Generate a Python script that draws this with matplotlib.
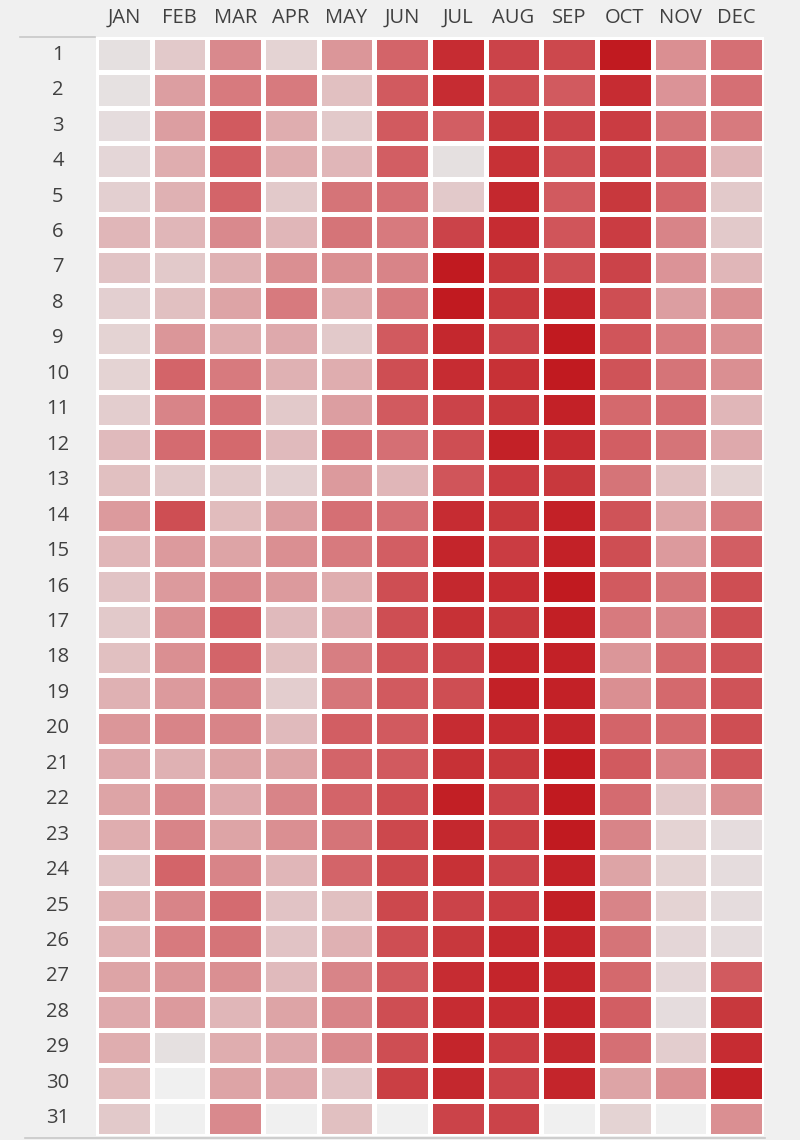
import numpy as np
import matplotlib
matplotlib.use('Agg')
import matplotlib.pyplot as plt
from matplotlib.colors import LinearSegmentedColormap
from matplotlib.transforms import blended_transform_factory
from matplotlib.lines import Line2D

months = ['JAN', 'FEB', 'MAR', 'APR', 'MAY', 'JUN',
          'JUL', 'AUG', 'SEP', 'OCT', 'NOV', 'DEC']
days = list(range(1, 32))
nan = np.nan

# intensity per day (0 = lightest, 10 = darkest)
jan = [0.3, 0.2, 0.5, 0.8, 1.2, 2.5, 1.8, 1.2, 1.0, 1.0, 1.3, 2.3, 2.0, 4.0, 2.5, 1.8,
       1.5, 2.0, 2.8, 4.2, 3.2, 3.5, 3.0, 1.8, 2.8, 2.8, 3.5, 3.2, 3.0, 2.2, 1.5]
feb = [1.5, 3.8, 3.8, 3.0, 2.8, 2.5, 1.5, 2.0, 4.2, 6.5, 5.0, 6.2, 1.5, 7.5, 4.0, 4.0,
       4.5, 4.5, 4.0, 5.0, 2.8, 4.8, 5.0, 6.5, 5.0, 5.5, 4.2, 4.0, 0.3, nan, nan]
mar = [4.8, 5.5, 7.0, 6.8, 6.5, 4.8, 2.8, 3.5, 3.0, 5.5, 6.0, 6.3, 1.5, 2.2, 3.5, 4.8,
       6.8, 6.5, 5.0, 5.0, 3.5, 3.2, 3.5, 5.0, 6.2, 5.8, 4.5, 2.5, 3.0, 3.5, 4.8]
apr = [1.0, 5.5, 3.0, 3.0, 1.5, 2.5, 4.5, 5.5, 3.2, 2.8, 1.5, 2.3, 1.2, 3.8, 4.5, 4.0,
       2.3, 2.0, 1.3, 2.3, 3.5, 5.0, 4.5, 2.5, 1.8, 1.8, 2.3, 3.5, 3.2, 3.2, nan]
may = [4.2, 2.0, 1.5, 2.5, 5.8, 5.8, 4.5, 3.0, 1.5, 3.0, 3.8, 6.0, 4.0, 6.0, 5.5, 3.0,
       3.2, 5.3, 5.7, 6.8, 6.5, 6.5, 5.8, 6.5, 2.0, 2.8, 5.0, 5.0, 4.8, 1.8, 2.0]
jun = [6.5, 7.0, 7.0, 6.8, 6.0, 5.5, 5.0, 5.5, 7.0, 7.5, 7.0, 6.0, 2.5, 6.0, 6.8, 7.5,
       7.5, 7.2, 7.0, 7.0, 7.0, 7.5, 7.8, 7.8, 7.8, 7.5, 7.0, 7.5, 7.5, 8.2, nan]
jul = [9.0, 9.0, 6.8, 0.3, 1.5, 8.0, 9.8, 9.8, 9.2, 9.0, 8.0, 7.5, 7.2, 9.0, 9.3, 9.2,
       8.8, 8.0, 7.5, 9.0, 8.8, 9.6, 9.2, 8.8, 8.0, 8.5, 9.0, 9.0, 9.3, 9.2, 8.0]
aug = [8.0, 7.5, 8.5, 8.8, 9.2, 9.0, 8.5, 8.5, 8.0, 8.8, 8.5, 9.5, 8.3, 8.5, 8.3, 9.0,
       8.5, 9.3, 9.5, 9.0, 8.5, 8.0, 8.2, 8.0, 8.3, 9.2, 9.3, 9.0, 8.3, 8.0, 8.0]
sep = [7.8, 7.0, 8.0, 7.5, 7.0, 7.2, 7.5, 9.3, 9.8, 9.8, 9.5, 9.0, 8.5, 9.5, 9.5, 9.8,
       9.6, 9.5, 9.5, 9.3, 9.7, 9.8, 9.8, 9.5, 9.6, 9.3, 9.3, 9.3, 9.2, 9.3, nan]
oct_ = [9.8, 9.0, 8.3, 8.0, 8.5, 8.3, 8.0, 7.5, 7.2, 7.3, 6.3, 6.8, 5.8, 7.3, 7.5, 7.0,
        5.5, 4.2, 4.5, 6.5, 7.0, 6.2, 5.0, 3.5, 5.0, 5.8, 6.3, 6.8, 6.0, 3.5, 1.0]
nov = [4.5, 4.3, 5.8, 6.8, 6.5, 5.0, 4.3, 3.8, 5.5, 5.8, 6.2, 5.8, 2.0, 3.5, 4.0, 5.8,
       5.0, 6.3, 6.3, 6.3, 5.2, 1.5, 1.0, 1.0, 1.0, 0.8, 0.8, 0.5, 1.3, 4.5, nan]
dec = [6.0, 6.0, 5.5, 2.5, 1.5, 1.5, 2.5, 4.5, 4.5, 4.5, 2.5, 3.2, 1.0, 5.5, 6.8, 7.5,
       7.5, 7.3, 7.3, 7.5, 7.2, 4.5, 0.5, 0.5, 0.5, 0.5, 7.0, 8.5, 9.0, 9.5, 4.5]


def main():
    values = np.array([jan, feb, mar, apr, may, jun, jul, aug, sep, oct_, nov, dec]).T
    values = np.ma.masked_invalid(values)

    bg = '#f0f0f0'
    txt = '#404040'
    cmap = LinearSegmentedColormap.from_list(
        'greyred', [(0.0, '#e6e5e5'), (0.4, '#dc9a9d'), (0.7, '#d15a5f'), (1.0, '#c0161c')],
        N=256)

    fig = plt.figure(figsize=(8, 11.4), dpi=100, facecolor=bg)
    ax = fig.add_axes([96 / 800, 1 - 1136 / 1140, (764 - 96) / 800, (1136 - 37) / 1140])
    ax.set_facecolor(bg)

    ax.pcolormesh(np.arange(13), np.arange(32), values, cmap=cmap, vmin=0, vmax=10,
                  edgecolors='white', linewidth=2.2)
    ax.set_xlim(0, 12)
    ax.set_ylim(31, 0)
    for s in ax.spines.values():
        s.set_visible(False)
    ax.set_xticks([])
    ax.set_yticks([])

    font = ['Open Sans', 'DejaVu Sans']
    tr_x = blended_transform_factory(ax.transData, fig.transFigure)
    for i, m in enumerate(months):
        ax.text(i + 0.5, 1 - 18 / 1140, m, transform=tr_x, ha='center', va='center',
                fontsize=14.5, color=txt, family=font)

    tr_y = blended_transform_factory(fig.transFigure, ax.transData)
    for j, d in enumerate(days):
        ax.text(58 / 800, j + 0.5, str(d), transform=tr_y, ha='center', va='center',
                fontsize=14.5, color=txt, family=font)

    # thin rules at the top of the day column and along the bottom
    fig.add_artist(Line2D([20 / 800, 95 / 800], [1 - 37 / 1140] * 2,
                          color='#c8c8c8', lw=1.2, transform=fig.transFigure))
    fig.add_artist(Line2D([25 / 800, 765 / 800], [1 - 1137.5 / 1140] * 2,
                          color='#c8c8c8', lw=1.2, transform=fig.transFigure))

    fig.savefig('out.png', dpi=100, facecolor=bg)


if __name__ == '__main__':
    main()
